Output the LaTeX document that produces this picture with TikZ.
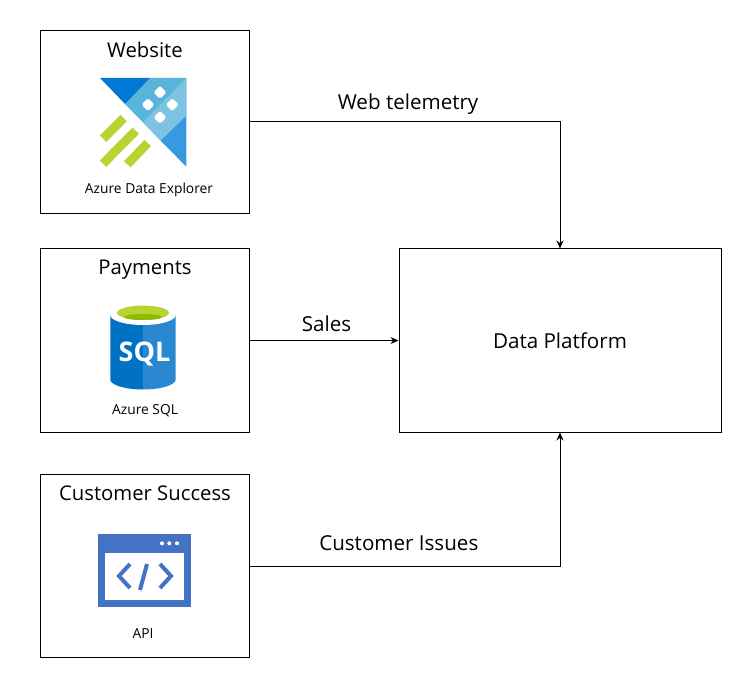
\documentclass[tikz,border=0pt]{standalone}
\usepackage{fontspec}
\usetikzlibrary{arrows.meta}
\setmainfont{Open Sans}
\definecolor{adxdark}{HTML}{0078D4}
\definecolor{adxmid}{HTML}{59B4D9}
\definecolor{adxlight}{HTML}{7CC4E2}
\definecolor{adxlow}{HTML}{3999E0}
\definecolor{adxgreen}{HTML}{B8D432}
\definecolor{sqldark}{HTML}{0072C6}
\definecolor{sqllight}{HTML}{2A88D0}
\definecolor{sqlinner}{HTML}{8CBB00}
\definecolor{apiblue}{HTML}{4472C4}

\begin{document}
\begin{tikzpicture}[->, >={Stealth[length=8pt, width=7pt]}, x=1pt, y=-1pt, node distance=218.75pt, line width=1pt,
  box/.style={rectangle, draw, minimum width=209pt, minimum height=183pt},
  bigbox/.style={rectangle, draw, minimum width=322pt, minimum height=183pt},
  title/.style={font=\fontsize{20.3}{24}\selectfont},
  caption/.style={font=\fontsize{13.8}{16}\selectfont},
  flow/.style={font=\fontsize{20.6}{24}\selectfont, above},
  bar/.style={-, adxgreen, line width=9pt, line join=round},
  dot/.style={fill=white, draw=none, rounded corners=1.5pt}]

  \useasboundingbox (0,0) rectangle (756,682);

  \node[box] (website) at (145,121.75) {};
  \node[box] (payments) [below of=website] {};
  \node[box] (customer) [below of=payments, yshift=-6.75pt] {};
  \node[bigbox] (platform) [right of=payments, xshift=196.25pt] {\fontsize{20.6}{24}\selectfont Data Platform};

  \node[title] (websitetitle) at (145,50) {Website};
  \node[title] (paymentstitle) at (145,270) {Payments};
  \node[title] (customertitle) at (145,493) {Customer Success};

  \node[caption] (adxlabel) at (149,189.5) {Azure Data Explorer};
  \node[caption] (sqllabel) at (145,410.5) {Azure SQL};
  \node[caption] (apilabel) at (143,634) {API};

  % website icon
  \fill[adxmid] (150,78) -- (186.3,78) -- (186.3,115.7) -- (160.7,140.7) -- (125,104) -- cycle;
  \fill[adxlight] (186.3,78) -- (186.3,115.7) -- (160.7,140.7) -- (143,122) -- cycle;
  \fill[adxdark] (100,78) -- (150,78) -- (125,104) -- cycle;
  \fill[adxlow] (186.3,115.7) -- (186.3,166.7) -- (160.7,140.7) -- cycle;
  \foreach \cx/\cy in {160/92.3, 148/104.7, 172.3/104.7, 160/117.3}
    \fill[dot] (\cx,\cy-6.5) -- (\cx+6.5,\cy) -- (\cx,\cy+6.5) -- (\cx-6.5,\cy) -- cycle;
  \draw[bar] (103,138.7) -- (123.7,118);
  \draw[bar] (103,163.7) -- (135.7,130.7);
  \draw[bar] (127.3,164.3) -- (147.7,143);

  % payments icon
  \fill[sqldark] (110.3,315) -- (143,315) -- (143,389.5) .. controls (125,389.5) and (110.3,385) .. (110.3,379.5) -- cycle;
  \fill[sqllight] (143,315) -- (175.7,315) -- (175.7,379.5) .. controls (175.7,385) and (161,389.5) .. (143,389.5) -- cycle;
  \fill[white] (143,315) ellipse[x radius=32.7, y radius=10];
  \fill[adxgreen] (143,312.8) ellipse[x radius=26, y radius=7.2];
  \fill[sqlinner] (143,317) ellipse[x radius=19, y radius=3];
  \node[text=white, font=\bfseries\fontsize{27}{31}\selectfont] (sqltext) at (144.5,354) {SQL};

  % api icon
  \fill[apiblue] (97.7,534) rectangle (191.3,606.7);
  \fill[white] (104.7,552.7) rectangle (184.3,599.7);
  \foreach \cx in {162,169.3,177}
    \fill[white] (\cx,543.3) circle[radius=2];
  \begin{scope}[-, draw=apiblue, line width=4pt]
    \draw (130,564) -- (119,576) -- (130,588);
    \draw (147,564) -- (140,590);
    \draw (160,564) -- (171,576) -- (160,588);
  \end{scope}

  \draw (website.east) -| node[flow, pos=0.255, yshift=3pt] {Web telemetry} (platform.north);
  \draw (payments.east) -- node[flow, pos=0.515, yshift=5pt] {Sales} (platform.west);
  \draw (customer.east) -| node[flow, pos=0.24, yshift=11pt] {Customer Issues} (platform.south);

\end{tikzpicture}
\end{document}
